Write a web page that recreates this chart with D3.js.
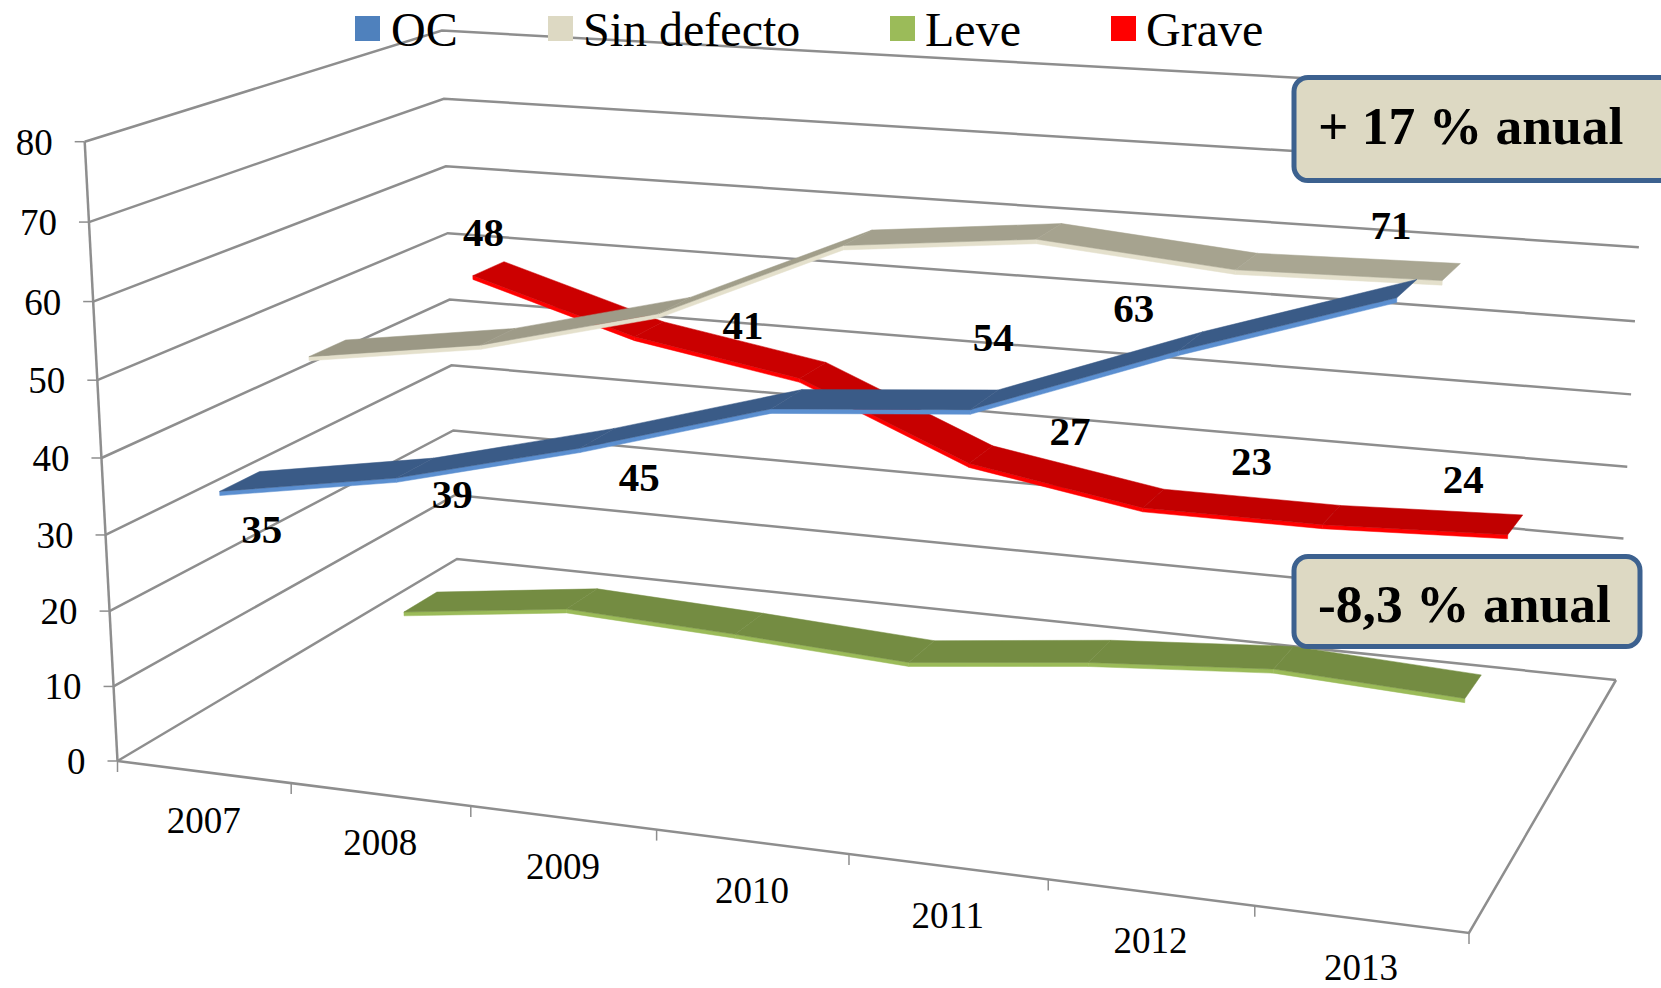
<!DOCTYPE html>
<html>
<head>
<meta charset="utf-8">
<script src="https://cdn.jsdelivr.net/npm/d3@7"></script>
<style>
body { margin: 0; background: #fff; }
text { font-family: "Liberation Serif", "Times New Roman", serif; fill: #000; }
</style>
</head>
<body>
<div id="chart"></div>
<script>
const years = ["2007", "2008", "2009", "2010", "2011", "2012", "2013"];
const seriesNames = ["OC", "Sin defecto", "Leve", "Grave"];
const valueTicks = [0, 10, 20, 30, 40, 50, 60, 70, 80];

const oc = [35, 39, 45, 52, 54, 63, 71];
const sinDefecto = [47, 50.5, 56.5, 67, 69.5, 67.5, 68];
const leve = [5, 8, 7, 5.7, 8.4, 10.2, 9];
const grave = [48, 41, 37, 27, 23, 23, 24];
const seriesValues = [oc, sinDefecto, leve, grave];

const legendColors = ["#4F81BD", "#DDD9C3", "#9BBB59", "#FF0000"];
const topColors = [["#3A5B87", "#3A5B87"], ["#9B9885", "#A9A692"], ["#748C42", "#748C42"], ["#CC0000", "#C00000"]];
const frontColors = ["#5B8FD0", "#E4E0CC", "#9BBB59", "#FF0000"];

// frame of the 3d box
const floorFL = [117.5, 761], floorFR = [1469, 933], floorBR = [1616, 680], floorBL = [457, 559];
const topFL = [84.7, 141.7];
const k = -0.042; // vertical perspective

// hand placed data labels: series, year index, offset from the ribbon
const dataLabels = [
    [0, 0, 22, 48], [0, 1, 37, 27], [0, 2, 42, 39], [0, 4, 9, -62], [0, 5, -57, -33], [0, 6, -16, -63],
    [3, 0, -5, -36], [3, 1, 94, -4], [3, 3, 89, -23], [3, 5, -80, -53], [3, 6, -52, -45]
];

const width = 1661, height = 988;

function makeProjection() {
    const [x0, y0] = floorFL, [x1, y1] = floorFR, [x2, y2] = floorBR, [x3, y3] = floorBL;
    const dx1 = x1 - x2, dx2 = x3 - x2, sx = x0 - x1 + x2 - x3;
    const dy1 = y1 - y2, dy2 = y3 - y2, sy = y0 - y1 + y2 - y3;
    const det = dx1 * dy2 - dx2 * dy1;
    const g = (sx * dy2 - dx2 * sy) / det;
    const h = (dx1 * sy - sx * dy1) / det;
    const a = x1 - x0 + g * x1, b = x3 - x0 + h * x3;
    const d = y1 - y0 + g * y1, e = y3 - y0 + h * y3;
    const bx = topFL[0] * (1 + k) - x0, by = topFL[1] * (1 + k) - y0;
    return (u, v, w) => {
        const q = g * u + h * w + k * v + 1;
        return [(a * u + b * w + bx * v + x0) / q, (d * u + e * w + by * v + y0) / q];
    };
}
const project = makeProjection();

const yScale = d3.scaleLinear().domain([0, 80]).range([0, 1]);
const xBand = d3.scaleBand().domain(years).range([0, 1]);
const zBand = d3.scaleBand().domain(seriesNames).range([0, 1]);
const xCenter = d => xBand(d) + xBand.bandwidth() / 2;
const zCenter = d => zBand(d) + zBand.bandwidth() / 2;
const ribbonDepth = 0.105, ribbonDrop = 0.55;

const svg = d3.select("#chart").append("svg").attr("width", width).attr("height", height);
const line = d3.line();
const gridColor = "#8E8E8E";

// walls and floor
const grid = svg.append("g").attr("fill", "none").attr("stroke", gridColor).attr("stroke-width", 2.5);
grid.selectAll(".grid")
    .data(valueTicks)
    .enter().append("path")
    .attr("class", "grid")
    .attr("d", t => line([project(0, yScale(t), 0), project(0, yScale(t), 1), project(1, yScale(t), 1)]));
grid.append("path").attr("d", line([project(0, 0, 0), project(0, 1, 0)]));
grid.append("path").attr("d", line([project(0, 0, 0), project(1, 0, 0), project(1, 0, 1)]));
grid.selectAll(".ytick")
    .data(valueTicks)
    .enter().append("path")
    .attr("class", "ytick")
    .attr("stroke-width", 1.5)
    .attr("d", t => {
        const p = project(0, yScale(t), 0);
        return line([[p[0] - 10, p[1]], p]);
    });
grid.selectAll(".xtick")
    .data(d3.range(years.length + 1))
    .enter().append("path")
    .attr("class", "xtick")
    .attr("stroke-width", 1.5)
    .attr("d", i => {
        const p = project(i / years.length, 0, 0);
        return line([p, [p[0], p[1] + 11]]);
    });

// axis labels
svg.selectAll(".ylab")
    .data(valueTicks)
    .enter().append("text")
    .attr("class", "ylab")
    .attr("text-anchor", "end")
    .attr("font-size", 37)
    .attr("x", t => project(0, yScale(t), 0)[0] - 32)
    .attr("y", t => project(0, yScale(t), 0)[1] + 13)
    .text(t => t);
svg.selectAll(".xlab")
    .data(years)
    .enter().append("text")
    .attr("class", "xlab")
    .attr("text-anchor", "middle")
    .attr("font-size", 37)
    .attr("x", d => project(xCenter(d), 0, 0)[0])
    .attr("y", d => project(xCenter(d), 0, 0)[1] + 61)
    .text(d => d);

// ribbons, back to front
d3.range(seriesNames.length).reverse().forEach(s => {
    const vals = seriesValues[s];
    const zMid = zCenter(seriesNames[s]);
    const zFront = zMid - ribbonDepth / 2, zBack = zMid + ribbonDepth / 2;
    const shade = d3.scaleLinear().domain([0, vals.length - 2]).range(topColors[s]);
    const g = svg.append("g").attr("class", "ribbon");
    d3.pairs(vals.map((v, i) => [xCenter(years[i]), yScale(v)])).forEach(([p, q], i) => {
        g.append("path")
            .attr("fill", frontColors[s])
            .attr("stroke", frontColors[s])
            .attr("stroke-width", 0.5)
            .attr("d", line([project(p[0], p[1], zFront), project(q[0], q[1], zFront),
                project(q[0], q[1] - yScale(ribbonDrop), zFront), project(p[0], p[1] - yScale(ribbonDrop), zFront)]) + "Z");
        g.append("path")
            .attr("fill", shade(i))
            .attr("stroke", shade(i))
            .attr("stroke-width", 0.5)
            .attr("d", line([project(p[0], p[1], zFront), project(q[0], q[1], zFront),
                project(q[0], q[1], zBack), project(p[0], p[1], zBack)]) + "Z");
    });
});

// data labels
svg.selectAll(".dlab")
    .data(dataLabels)
    .enter().append("text")
    .attr("class", "dlab")
    .attr("text-anchor", "middle")
    .attr("font-size", 41)
    .attr("font-weight", "bold")
    .attr("x", d => project(xCenter(years[d[1]]), yScale(seriesValues[d[0]][d[1]]), zCenter(seriesNames[d[0]]))[0] + d[2])
    .attr("y", d => project(xCenter(years[d[1]]), yScale(seriesValues[d[0]][d[1]]), zCenter(seriesNames[d[0]]))[1] + d[3] + 13.5)
    .text(d => seriesValues[d[0]][d[1]]);

// legend
const legendX = [355, 548, 890, 1111];
const legend = svg.append("g");
seriesNames.forEach((name, i) => {
    legend.append("rect").attr("x", legendX[i]).attr("y", 16).attr("width", 25).attr("height", 25).attr("fill", legendColors[i]);
    legend.append("text").attr("x", legendX[i] + (i === 0 ? 36 : 35)).attr("y", 45.5).attr("font-size", 48).text(name);
});

// callouts
const callouts = [
    { label: "+ 17 % anual", x: 1294, y: 77.5, w: 400, h: 103, tx: 1318, ty: 144 },
    { label: "-8,3 % anual", x: 1294, y: 556.5, w: 346, h: 90, tx: 1318, ty: 622 }
];
callouts.forEach(c => {
    svg.append("rect").attr("x", c.x).attr("y", c.y).attr("width", c.w).attr("height", c.h)
        .attr("rx", 14).attr("fill", "#DDD9C3").attr("stroke", "#3C618F").attr("stroke-width", 5);
    svg.append("text").attr("x", c.tx).attr("y", c.ty).attr("font-size", 53.5).attr("font-weight", "bold").text(c.label);
});
</script>
</body>
</html>
